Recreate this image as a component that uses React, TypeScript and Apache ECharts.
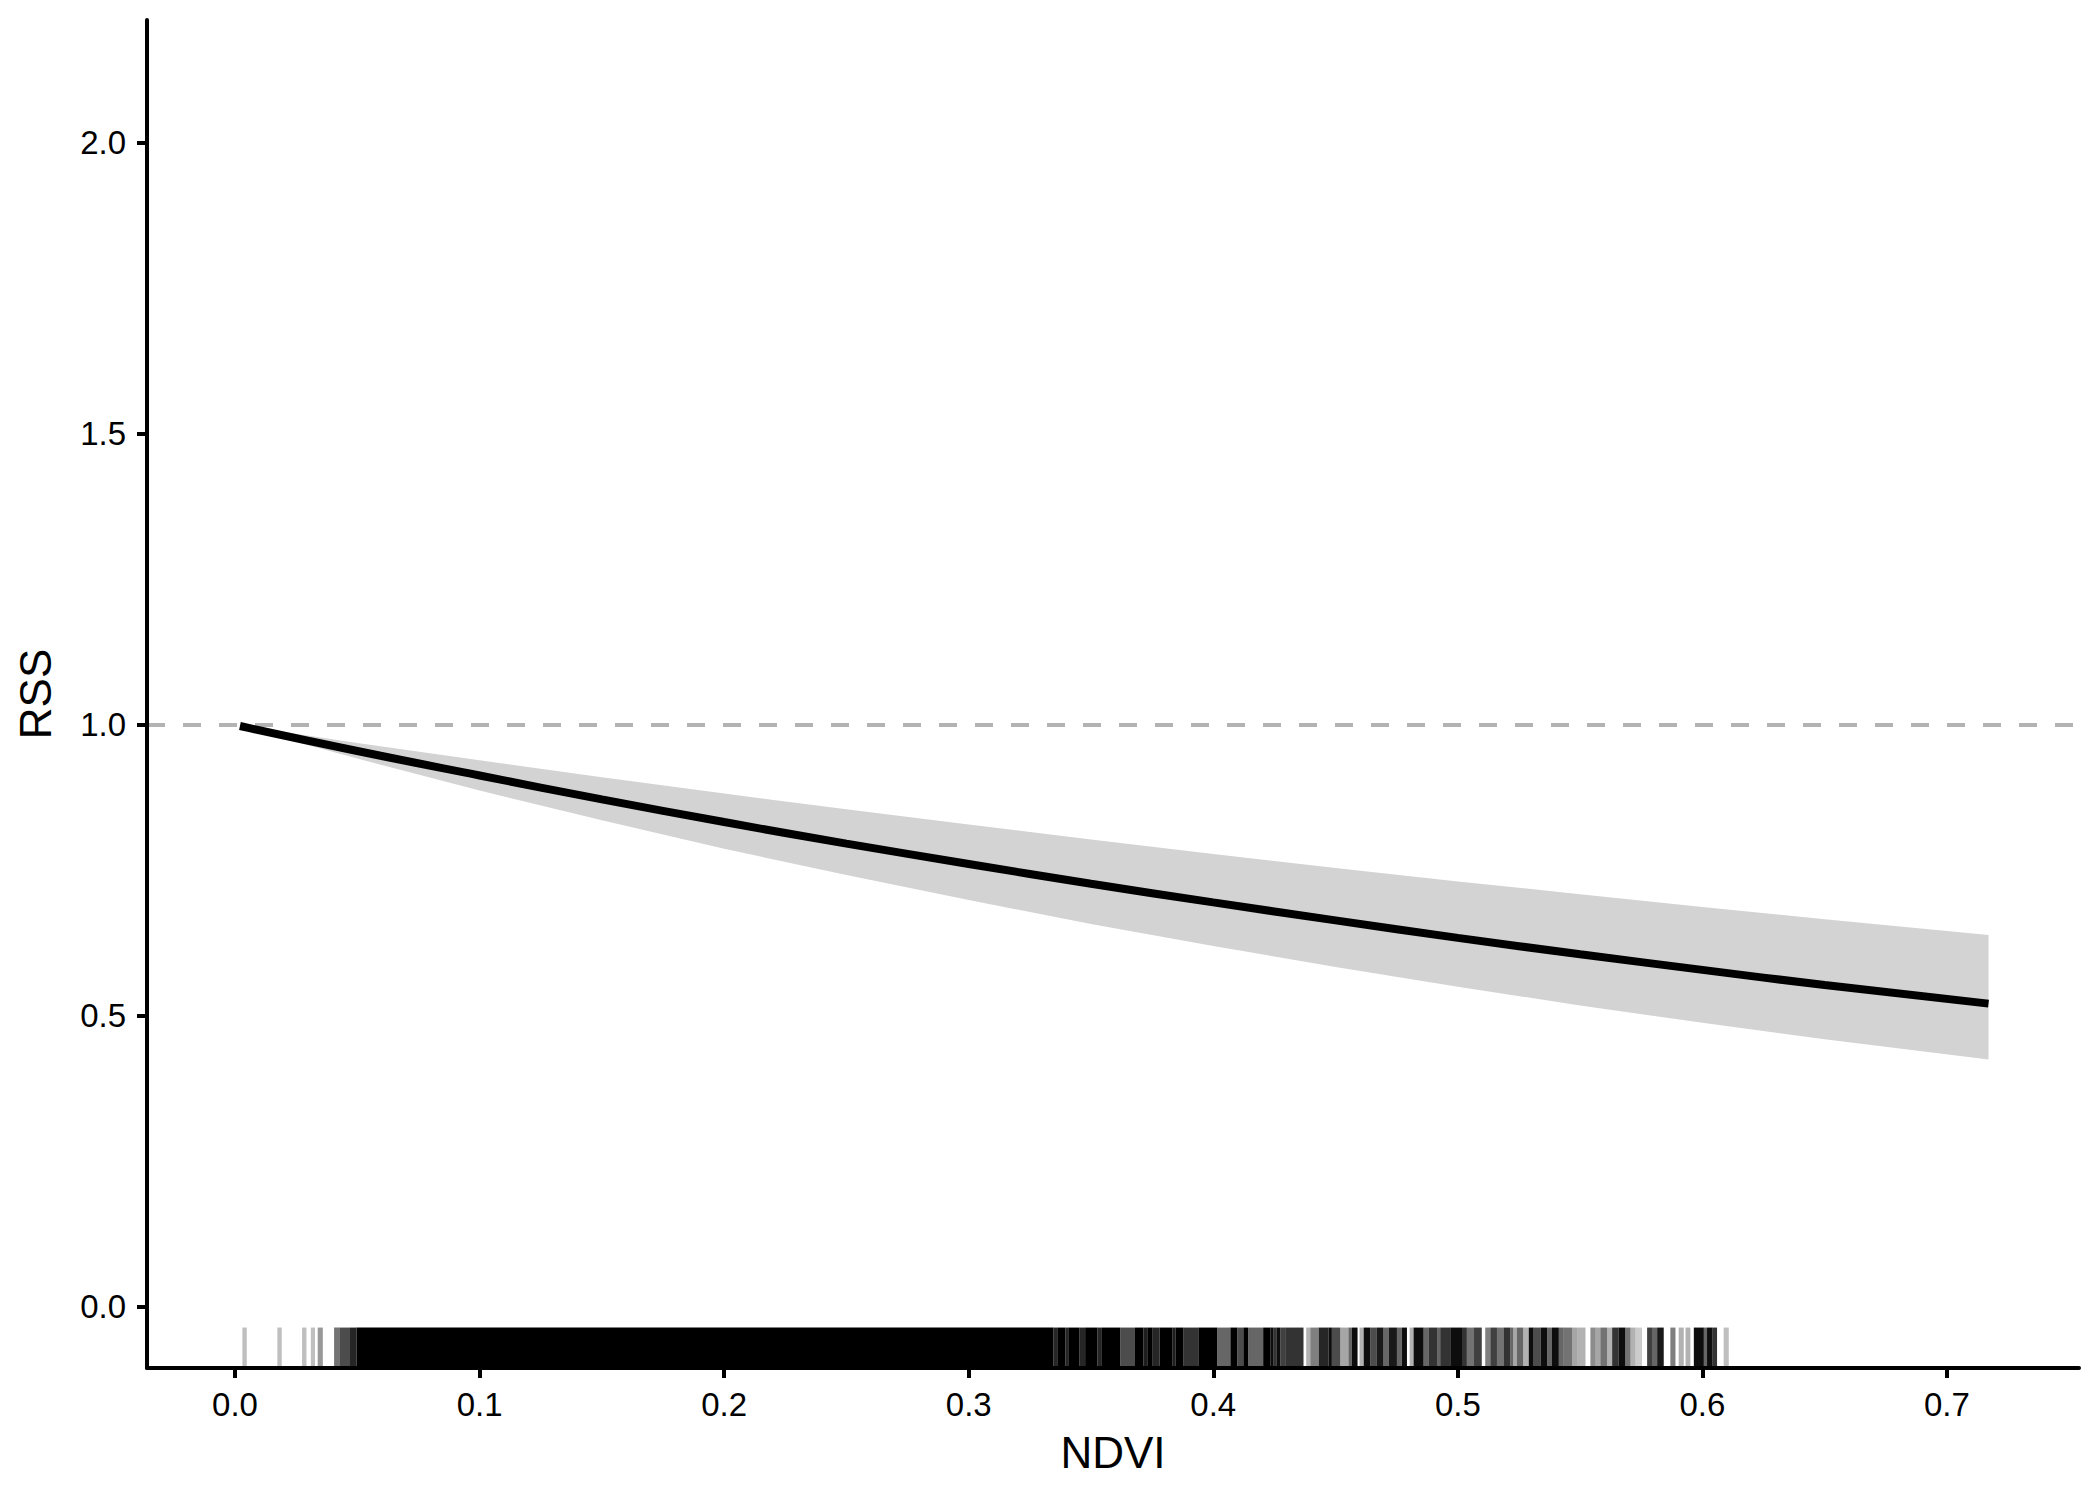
import React, { useEffect, useRef } from "react";
import * as echarts from "echarts";

// fitted curve and confidence band
const ndvi = [0.002, 0.05, 0.1, 0.15, 0.2, 0.25, 0.3, 0.35, 0.4, 0.45, 0.5, 0.55, 0.6, 0.65, 0.717];
const rssFit = [0.998, 0.955, 0.913, 0.872, 0.833, 0.796, 0.761, 0.727, 0.695, 0.664, 0.634, 0.606, 0.579, 0.553, 0.521];
const rssUpper = [0.999, 0.969, 0.939, 0.91, 0.882, 0.855, 0.829, 0.803, 0.778, 0.754, 0.731, 0.709, 0.687, 0.666, 0.639];
const rssLower = [0.997, 0.942, 0.887, 0.836, 0.787, 0.742, 0.699, 0.658, 0.62, 0.584, 0.55, 0.518, 0.488, 0.46, 0.425];

const xTicks = [0, 0.1, 0.2, 0.3, 0.4, 0.5, 0.6, 0.7];
const yTicks = [0, 0.5, 1, 1.5, 2];
const refLine = 1;

// rug of observed NDVI values: [from, to, darkness]
const rugBands: [number, number, number][] = [
  [0.003, 0.0048, 0.25], [0.0173, 0.0191, 0.25], [0.0274, 0.0292, 0.25], [0.031, 0.0327, 0.25],
  [0.0338, 0.0359, 0.4], [0.0405, 0.0429, 0.55], [0.0429, 0.047, 0.7], [0.047, 0.0497, 0.85],
  [0.0497, 0.3346, 1],
  [0.3346, 0.3362, 0.85], [0.3362, 0.3395, 1], [0.3395, 0.3407, 0.85], [0.3407, 0.3452, 1],
  [0.3452, 0.3476, 0.85], [0.3476, 0.3526, 1], [0.3526, 0.3542, 0.85], [0.3542, 0.362, 1],
  [0.362, 0.368, 0.7], [0.368, 0.3714, 1], [0.3714, 0.373, 0.88], [0.373, 0.375, 1],
  [0.375, 0.378, 0.85], [0.378, 0.3832, 1], [0.3832, 0.3845, 0.88], [0.3845, 0.3877, 1],
  [0.3877, 0.3939, 0.8], [0.3939, 0.4016, 1], [0.4016, 0.407, 0.6], [0.407, 0.4098, 1],
  [0.4098, 0.4123, 0.7], [0.4123, 0.4143, 1], [0.4143, 0.4204, 0.6], [0.4204, 0.4233, 1],
  [0.4233, 0.4247, 0.95], [0.4247, 0.426, 0.8], [0.426, 0.4274, 0.95], [0.4274, 0.4294, 0.75],
  [0.4294, 0.4369, 0.8], [0.438, 0.4397, 0.3], [0.4397, 0.4431, 0.5], [0.4431, 0.4472, 0.85],
  [0.4472, 0.4485, 0.95], [0.4485, 0.4519, 0.7], [0.4519, 0.4553, 0.35], [0.4553, 0.4567, 0.6],
  [0.4567, 0.459, 0.95], [0.4598, 0.4615, 0.3], [0.4615, 0.4642, 0.95], [0.4642, 0.4669, 0.7],
  [0.4669, 0.4696, 0.9], [0.4696, 0.4717, 0.6], [0.4717, 0.4751, 0.9], [0.4751, 0.4771, 0.6],
  [0.4771, 0.4792, 0.95], [0.4803, 0.4819, 0.3], [0.4819, 0.486, 0.95], [0.486, 0.488, 0.6],
  [0.488, 0.4915, 0.8], [0.4915, 0.4928, 0.6], [0.4928, 0.4969, 0.8], [0.4969, 0.5017, 0.95],
  [0.5017, 0.5037, 0.8], [0.5037, 0.5064, 0.55], [0.5064, 0.5098, 0.75], [0.5112, 0.5133, 0.5],
  [0.5133, 0.516, 0.75], [0.516, 0.5187, 0.55], [0.5187, 0.5215, 0.8],
  [0.5215, 0.5226, 0.6], [0.5226, 0.5242, 0.35], [0.5242, 0.5267, 0.6], [0.5267, 0.529, 0.3],
  [0.529, 0.531, 0.95], [0.531, 0.5338, 0.7], [0.5338, 0.5365, 0.95], [0.5365, 0.5385, 0.6],
  [0.5385, 0.5413, 0.95], [0.5413, 0.5433, 0.6], [0.5433, 0.5467, 0.55], [0.5467, 0.5488, 0.35],
  [0.5488, 0.5522, 0.3], [0.5542, 0.5563, 0.45], [0.5563, 0.5583, 0.35], [0.5583, 0.561, 0.55],
  [0.561, 0.5631, 0.3], [0.5631, 0.5658, 0.8], [0.5658, 0.5685, 0.95], [0.5685, 0.5706, 0.55],
  [0.5706, 0.5726, 0.3], [0.5726, 0.5753, 0.2], [0.5774, 0.5794, 0.75], [0.5794, 0.5815, 0.6],
  [0.5815, 0.5842, 0.9], [0.5869, 0.589, 0.5], [0.5903, 0.5924, 0.3], [0.5931, 0.5951, 0.3],
  [0.5965, 0.6006, 0.95], [0.6006, 0.6019, 0.6], [0.6019, 0.604, 0.95], [0.604, 0.606, 0.8],
  [0.6087, 0.6108, 0.25],
];

const X_MIN = -0.036;
const X_MAX = 0.754;
const Y_MIN = -0.105;
const Y_MAX = 2.211;
const RUG_TOP = Y_MIN + 0.03 * (Y_MAX - Y_MIN);

const FONT = "'Liberation Sans', Arial, Helvetica, sans-serif";

export default function App() {
  const ref = useRef<HTMLDivElement>(null);

  useEffect(() => {
    if (!ref.current) return;
    const chart = echarts.init(ref.current, undefined, { renderer: "svg" });

    const axisCommon = {
      type: "value",
      axisLine: { show: true, onZero: false, lineStyle: { color: "#000", width: 4 } },
      axisTick: { show: true, length: 10, lineStyle: { color: "#000", width: 4 } },
      splitLine: { show: false },
      nameLocation: "middle",
      nameTextStyle: { fontSize: 44, color: "#000", fontFamily: FONT },
    };

    chart.setOption({
      animation: false,
      backgroundColor: "#fff",
      grid: { left: 147, right: 21, top: 20, bottom: 132, containLabel: false },
      xAxis: {
        ...axisCommon,
        min: X_MIN,
        max: X_MAX,
        name: "NDVI",
        nameGap: 62,
        axisTick: { ...axisCommon.axisTick, customValues: xTicks },
        axisLabel: {
          customValues: xTicks,
          formatter: (v: number) => v.toFixed(1),
          fontSize: 33,
          color: "#000",
          fontFamily: FONT,
          margin: 20,
        },
      },
      yAxis: {
        ...axisCommon,
        min: Y_MIN,
        max: Y_MAX,
        name: "RSS",
        nameGap: 90,
        axisTick: { ...axisCommon.axisTick, customValues: yTicks },
        axisLabel: {
          customValues: yTicks,
          formatter: (v: number) => v.toFixed(1),
          fontSize: 33,
          color: "#000",
          fontFamily: FONT,
          margin: 21,
        },
      },
      series: [
        {
          type: "custom",
          name: "band",
          z: 1,
          silent: true,
          data: [[ndvi[0], rssFit[0]]],
          renderItem: (_p: any, api: any) => {
            const pts = ndvi.map((x, i) => api.coord([x, rssUpper[i]]));
            for (let i = ndvi.length - 1; i >= 0; i--) pts.push(api.coord([ndvi[i], rssLower[i]]));
            return { type: "polygon", shape: { points: pts }, style: { fill: "#d3d3d3" } };
          },
        },
        {
          type: "custom",
          name: "rug",
          z: 2,
          silent: true,
          dimensions: ["from", "to", "alpha"],
          encode: { x: [0, 1], y: 2 },
          data: rugBands,
          renderItem: (_p: any, api: any) => {
            const a = api.coord([api.value(0), Y_MIN]);
            const b = api.coord([api.value(1), RUG_TOP]);
            return {
              type: "rect",
              shape: { x: a[0], y: b[1], width: Math.max(b[0] - a[0], 1), height: a[1] - b[1] },
              style: { fill: `rgba(0,0,0,${api.value(2)})` },
            };
          },
        },
        {
          type: "line",
          name: "fit",
          z: 3,
          data: ndvi.map((x, i) => [x, rssFit[i]]),
          smooth: true,
          showSymbol: false,
          lineStyle: { color: "#000", width: 8 },
          markLine: {
            silent: true,
            symbol: "none",
            label: { show: false },
            lineStyle: { color: "#b3b3b3", width: 4, type: [18, 18] },
            data: [{ yAxis: refLine }],
            z: 0,
          },
        },
      ],
    });

    return () => chart.dispose();
  }, []);

  return <div ref={ref} style={{ position: "fixed", left: 0, top: 0, width: 2100, height: 1500 }} />;
}
